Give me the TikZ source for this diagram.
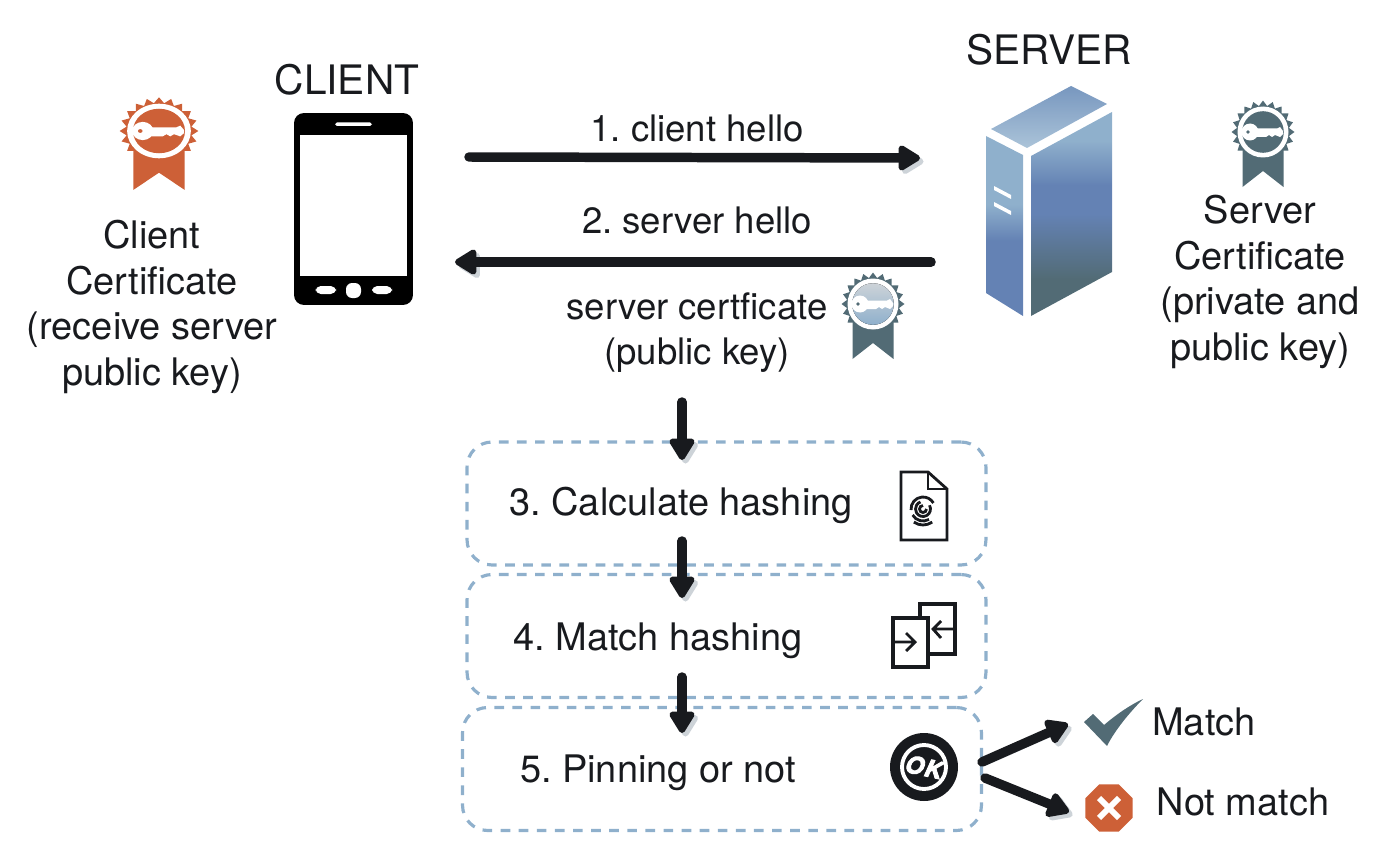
\documentclass[tikz,border=0pt]{standalone}
\usepackage{fontspec}
\setmainfont{TeX Gyre Heros}
\newfontface\okfont{TeX Gyre Heros Bold Italic}[FakeBold=4]
\frenchspacing
\definecolor{myink}{RGB}{24,26,30}
\definecolor{myorange}{RGB}{205,96,55}
\definecolor{mysteel}{RGB}{82,107,117}
\definecolor{mylight}{RGB}{143,176,204}
\definecolor{myblue}{RGB}{100,130,180}
\definecolor{myshadow}{RGB}{205,211,216}
\usetikzlibrary{calc,arrows.meta,positioning,shapes.geometric}
\pgfdeclareverticalshading{serverleft}{100bp}{color(0bp)=(myblue);color(46bp)=(myblue);color(56bp)=(mylight);color(100bp)=(mylight)}
\pgfdeclareverticalshading{serverright}{100bp}{color(0bp)=(mysteel);color(34bp)=(mysteel);color(50bp)=(myblue);color(57bp)=(myblue);color(68bp)=(mylight);color(100bp)=(mylight)}
\tikzstyle{plain}=[text=myink,font=\fontsize{21.6}{26}\selectfont,align=center,inner sep=0pt]
\tikzstyle{small}=[plain,font=\fontsize{20.8}{25.6}\selectfont]
\tikzstyle{title}=[plain,font=\fontsize{23.1}{27}\selectfont]
\tikzstyle{flow}=[line width=5.4pt,line cap=round,draw=myink,
  -{Triangle[round,length=14pt,width=16pt]},
  preaction={draw=myshadow,transform canvas={xshift=2pt,yshift=-2pt}}]
\tikzstyle{stepbox}=[draw=mylight,line width=1.8pt,dash pattern=on 5.5pt off 4.8pt,
  rounded corners=0.5cm,minimum width=10.38cm,minimum height=2.46cm]
\tikzstyle{iconline}=[draw=myink,line width=1.6pt]
\tikzset{
  pics/badge/.style 2 args={code={
    \fill[#1] (-20.5,15) -- (20.5,15) -- (20.5,55) -- (0,39) -- (-20.5,55) -- cycle;
    \node[star,star points=20,star point ratio=1.2,fill=#1,inner sep=0pt,
      minimum size=1.26cm,transform shape] (-rim) at (0,0) {};
    \fill[white] (0,0) circle (25.5);
    \fill[#2] (0,0) circle (20.8);
    \fill[white] (-13,0) circle (8.5);
    \fill[white] (-8,-3.5) -- (14,-3.5) -- (17,-5) -- (20,-1) -- (20,2) -- (17,5) -- (12,3) -- (9,5) -- (6,3) -- (3,5) -- (-8,5) -- cycle;
    \fill[#1] (-15,0) circle (1.8);
  }}
}

\begin{document}
\begin{tikzpicture}[x=0.02cm,y=-0.02cm]
\useasboundingbox (0,0) rectangle (1400,855);

% client side
\node[title] (clienttitle) at (347,80) {CLIENT};
\node[draw=none,fill=black,rounded corners=0.2cm,minimum width=2.38cm,minimum height=3.84cm,inner sep=0pt] (phone) at (353.5,209) {};
\node[fill=white,minimum width=2.14cm,minimum height=2.82cm,inner sep=0pt] (screen) at (353.5,205.5) {};
\fill[white,rounded corners=1pt] (335,122.5) rectangle (372,126);
\fill[white,rounded corners=3pt] (315.5,286) rectangle (336,294);
\fill[white,rounded corners=3.5pt] (346,283) rectangle (361,298);
\fill[white,rounded corners=3pt] (372,286) rectangle (392,294);
\pic[xscale=1.25,yscale=1.07] (clientbadge) at (159,131) {badge={myorange}{fill=myorange}};
\node[plain] (clientcert) at (152,307) {Client\\Certificate\\(receive server\\public key)};

% server side
\node[title] (servertitle) at (1049,50) {SERVER};
\shade[top color=myblue!55!mylight,middle color=mylight,bottom color=mylight!75!white] (991,129) -- (1071,86) -- (1107,104) -- (1027,148) -- cycle;
\shade[shading=serverleft] (986,136) -- (1023,155) -- (1023,316) -- (986,293) -- cycle;
\shade[shading=serverright] (1031,156) -- (1112,112) -- (1112,272) -- (1031,316) -- cycle;
\fill[white] (994,186) -- (1011,195) -- (1011,199) -- (994,190) -- cycle;
\fill[white] (994,202) -- (1011,211) -- (1011,215) -- (994,206) -- cycle;
\coordinate (server) at (1049,201);
\pic (serverbadge) at (1263,132) {badge={mysteel}{fill=mysteel}};
\node[plain] (servercert) at (1260,282) {Server\\Certificate\\(private and\\public key)};

% hello messages
\node[small] (hello1) at (697,128) {1. client hello};
\node[small] (hello2) at (697,220) {2. server hello};
\node[small] (pubkey) at (697,332.5) {server certficate\\(public key)};
\pic (sentbadge) at (873,304) {badge={mysteel}{top color=myshadow,bottom color=mylight}};
\coordinate (hello1from) at (469,157);
\coordinate (hello1to) at (920,158);
\coordinate (hello2from) at (931,262);
\coordinate (hello2to) at (455,262);
\draw[flow] (hello1from) -- (hello1to);
\draw[flow] (hello2from) -- (hello2to);

% steps
\node[stepbox] (hashbox) at (726.5,503.5) {};
\node[stepbox] (matchbox) at (726.5,636) {};
\node[stepbox] (pinbox) at (722,769) {};
\node[plain] (hashtext) at (681,505.5) {3. Calculate hashing};
\node[plain] (matchtext) at (658,640.5) {4. Match hashing};
\node[plain] (pintext) at (658,773) {5. Pinning or not};
\foreach \Name/\From/\To in {a/402/460,b/541/598,c/677/733}{
  \coordinate (step\Name from) at (682,\From);
  \coordinate (step\Name to) at (682,\To);
  \draw[flow] (step\Name from) -- (step\Name to);
}

% document with fingerprint
\draw[iconline,line join=miter] (901,472) -- (928,472) -- (947,489) -- (947,540) -- (901,540) -- cycle;
\draw[iconline] (928,472) -- (928,489) -- (947,489);
\coordinate (whorl) at (923,509);
\foreach \Rad/\Start/\End in {3.5/0/270,7.5/-30/250,12/175/330,12/60/150,16/55/125}
  \draw[iconline] ([shift={(\Start:\Rad)}]whorl) arc (\Start:\End:\Rad);

% two swapped pages
\draw[iconline,line width=1.9pt,fill=white] (920,604) rectangle (955,654);
\draw[iconline,line width=1.9pt,fill=white] (893,618) rectangle (928,667);
\draw[iconline] (955,629) -- (934,629) (941,621) -- (933,629) -- (941,638);
\draw[iconline] (893,642) -- (914,642) (906,633) -- (915,642) -- (906,651);

% ok badge
\fill[myink] (924,767) circle (34);
\draw[white,line width=2.2pt] (924,767) circle (22);
\node[text=white,font=\fontsize{13.5}{14}\okfont,rotate=-12,inner sep=0pt] (oktext) at (924,767) {O\kern0.8ptK};

% outcome
\coordinate (okup) at (982,762);
\coordinate (oktick) at (1068,724);
\coordinate (okdown) at (985,778);
\coordinate (okcross) at (1069,812);
\draw[flow] (okup) -- (oktick);
\draw[flow] (okdown) -- (okcross);
\fill[mysteel] (1084,722) -- (1093,714) -- (1104,725) .. controls (1117,714) and (1130,705) .. (1143,699) .. controls (1130,712) and (1115,730) .. (1107,746) -- cycle;
\node[regular polygon,regular polygon sides=8,fill=myorange,minimum size=1.02cm,inner sep=0pt] (cross) at (1109,808) {};
\draw[white,line width=3.4pt] (1099,798) -- (1119,818) (1119,798) -- (1099,818);
\node[plain] (matchlabel) at (1204,722) {Match};
\node[plain] (nomatchlabel) at (1243,802) {Not match};
\end{tikzpicture}
\end{document}
